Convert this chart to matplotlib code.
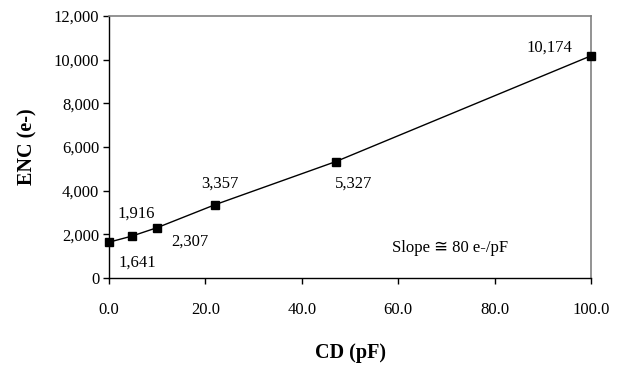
import matplotlib.pyplot as plt

# capacitance (pF) vs equivalent noise charge (e-)
cd_pf = [0.0, 4.7, 10.0, 22.0, 47.0, 100.0]
enc = [1641, 1916, 2307, 3357, 5327, 10174]
labels = ["1,641", "1,916", "2,307", "3,357", "5,327", "10,174"]
# label offsets in pixels from each point
offsets = [(28, -20), (5, 23), (33, -14), (5, 21), (18, -22), (-42, 8)]

x_ticks = [0, 20, 40, 60, 80, 100]
y_ticks = [0, 2000, 4000, 6000, 8000, 10000, 12000]

serif = ["Liberation Serif", "DejaVu Serif", "DejaVu Sans"]
plt.rcParams["font.family"] = serif

fig = plt.figure(figsize=(6.23, 3.67), dpi=100)
ax = fig.add_axes([0.175, 0.2425, 0.7736, 0.714])

ax.plot(cd_pf, enc, "-", color="black", lw=1.0, marker="s", ms=5.5, clip_on=False, zorder=3)

for x, y, lab, (dx, dy) in zip(cd_pf, enc, labels, offsets):
    ax.annotate(lab, (x, y), xytext=(dx * 0.72, dy * 0.72), textcoords="offset points",
                ha="center", va="center", fontsize=12)

ax.text(70.7, 1370, "Slope \u2245 80 e-/pF", ha="center", va="center", fontsize=12,
        family=["Liberation Serif", "DejaVu Sans"])

ax.set_xlim(0, 100)
ax.set_ylim(0, 12000)
ax.set_xticks(x_ticks)
ax.set_xticklabels([f"{v:.1f}" for v in x_ticks])
ax.set_yticks(y_ticks)
ax.set_yticklabels([f"{v:,}" for v in y_ticks])
ax.tick_params(axis="both", direction="out", length=4, width=1, labelsize=12)
ax.tick_params(axis="x", pad=13)
ax.tick_params(axis="y", pad=3)

for side in ["top", "right"]:
    ax.spines[side].set_color("#808080")
    ax.spines[side].set_linewidth(1.2)
for side in ["left", "bottom"]:
    ax.spines[side].set_color("black")
    ax.spines[side].set_linewidth(1.0)

ax.set_xlabel("CD (pF)", fontsize=14.5, fontweight="bold", labelpad=18)
ax.set_ylabel("ENC (e-)", fontsize=14.5, fontweight="bold", labelpad=12)

fig.savefig("out.png", dpi=100)
